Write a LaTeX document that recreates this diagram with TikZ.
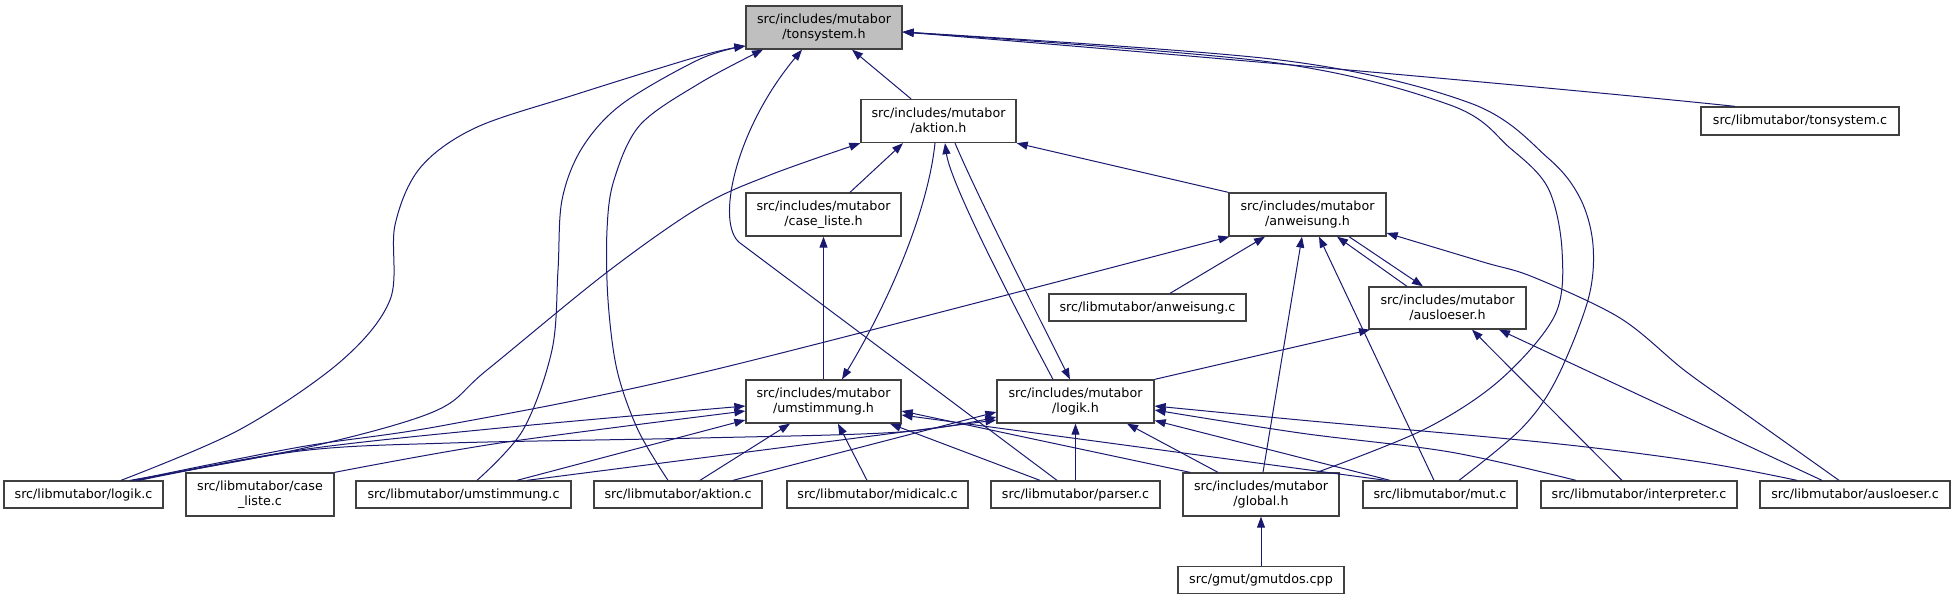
\documentclass[tikz,border=0pt]{standalone}
\usepackage{fontspec}
\setmainfont{DejaVu Sans}
\usetikzlibrary{arrows.meta}
\definecolor{edgec}{RGB}{25,25,112}
\definecolor{boxc}{RGB}{64,64,64}
\definecolor{tonsfill}{RGB}{191,191,191}
\begin{document}
\begin{tikzpicture}[x=1pt,y=-1pt,
  box/.style={draw=boxc, line width=1.3pt, fill=white, inner sep=0pt, align=center,
    minimum height=27pt, font=\fontsize{12.7}{15}\selectfont},
  tall/.style={minimum height=43pt},
  e/.style={draw=edgec, line width=1pt, -{Triangle[length=11pt,width=8pt]}},
]
\useasboundingbox (0,0) rectangle (1955,600);
% nodes
\node[box,tall,fill=tonsfill,minimum width=156pt] (tons) at (824,27.5) {src/includes/mutabor\\/tonsystem.h};
\node[box,tall,minimum width=155pt] (aktionh) at (938.5,121) {src/includes/mutabor\\/aktion.h};
\node[box,minimum width=198pt,minimum height=28pt] (tonsc) at (1800,121) {src/libmutabor/tonsystem.c};
\node[box,tall,minimum width=155pt] (casel) at (823.5,214.5) {src/includes/mutabor\\/case\_liste.h};
\node[box,tall,minimum width=157pt] (anwh) at (1307.5,214.5) {src/includes/mutabor\\/anweisung.h};
\node[box,minimum width=197pt] (anwc) at (1147.5,307.5) {src/libmutabor/anweisung.c};
\node[box,tall,minimum width=157pt,minimum height=42pt] (auslh) at (1447.5,308) {src/includes/mutabor\\/ausloeser.h};
\node[box,tall,minimum width=155pt] (umsth) at (823.5,401.5) {src/includes/mutabor\\/umstimmung.h};
\node[box,tall,minimum width=157pt] (logikh) at (1075.5,401.5) {src/includes/mutabor\\/logik.h};
\node[box,minimum width=159pt] (logikc) at (83.5,494.5) {src/libmutabor/logik.c};
\node[box,tall,minimum width=148pt] (caselc) at (260,494.5) {src/libmutabor/case\\\_liste.c};
\node[box,minimum width=215pt] (umstc) at (463.5,494.5) {src/libmutabor/umstimmung.c};
\node[box,minimum width=168pt] (aktionc) at (678,494.5) {src/libmutabor/aktion.c};
\node[box,minimum width=181pt] (midic) at (877.5,494.5) {src/libmutabor/midicalc.c};
\node[box,minimum width=169pt] (parserc) at (1075.5,494.5) {src/libmutabor/parser.c};
\node[box,tall,minimum width=156pt] (globalh) at (1261,494.5) {src/includes/mutabor\\/global.h};
\node[box,minimum width=154pt] (mutc) at (1440,494.5) {src/libmutabor/mut.c};
\node[box,minimum width=196pt] (interc) at (1639,494.5) {src/libmutabor/interpreter.c};
\node[box,minimum width=190pt] (auslc) at (1855,494.5) {src/libmutabor/ausloeser.c};
\node[box,minimum width=166pt] (gmutdos) at (1261,580) {src/gmut/gmutdos.cpp};

% edges to tonsystem.h
\draw[e] ([xshift=-27.5pt]aktionh.north) -- ([xshift=28pt]tons.south);
\draw[e] ([xshift=-65pt]tonsc.north) .. controls (1600,92) and (1200,56) .. ([yshift=-4.5pt]tons.east);
\draw[e] plot[smooth,tension=0.55] coordinates {([xshift=56pt]globalh.north) (1425,429) (1500,380) (1555,315) (1562,250) (1548,188) (1510,148) (1450,105) (1270,62) ([yshift=-4.5pt]tons.east)};
\draw[e] plot[smooth,tension=0.55] coordinates {([xshift=19pt]mutc.north) (1521,429) (1556,380) (1588,300) (1593,245) (1580,198) (1548,158) (1470,103) (1280,60) ([yshift=-4.5pt]tons.east)};
\draw[e] plot[smooth,tension=0.55] coordinates {([xshift=37.5pt]logikc.north) (239,430) (340,362) (390,300) (395,225) (420,168) (475,128) (574,95) (700,56) ([yshift=-18.5pt]tons.west)};
\draw[e] plot[smooth,tension=0.55] coordinates {([xshift=13.5pt]umstc.north) (523,430) (552,350) (558,270) (562,200) (582,148) (622,104) (700,59) ([yshift=-18.5pt]tons.west)};
\draw[e] plot[smooth,tension=0.55] coordinates {([xshift=-10pt]aktionc.north) (638,430) (617,370) (608,300) (607,230) (614,180) (640,125) (700,83) ([xshift=-61pt]tons.south)};
\draw[e] ([xshift=-18.5pt]parserc.north) -- (740,243) .. controls (715,224) and (735,130) .. ([xshift=-22pt]tons.south);

% edges to aktion.h
\draw[e] ([xshift=26.5pt]casel.north) -- ([xshift=-35.5pt]aktionh.south);
\draw[e] (anwh.north west) -- (aktionh.south east);
\draw[e] plot[smooth,tension=0.55] coordinates {([xshift=46.5pt]logikc.north) (300,449) (433,412) (487,370) (606,273) (700,207) (770,175) (aktionh.south west)};
\draw[e] ([xshift=-22.5pt]logikh.north) .. controls (1000,280) and (950,180) .. ([xshift=6.5pt]aktionh.south);
\draw[e] ([xshift=16.5pt]aktionh.south) .. controls (975,190) and (1020,280) .. ([xshift=-5.5pt]logikh.north);
\draw[e] ([xshift=-3.5pt]aktionh.south) .. controls (928,210) and (890,300) .. ([xshift=18.5pt]umsth.north);

% case_liste.h
\draw[e] (umsth.north) -- (casel.south);

% anweisung.h
\draw[e] plot[smooth,tension=0.55] coordinates {([xshift=49.5pt]logikc.north) (300,447) (446,425) (713,370) ([xshift=-78pt]anwh.south)};
\draw[e] ([xshift=22.5pt]anwc.north) -- ([xshift=-42.5pt]anwh.south);
\draw[e] ([xshift=2pt]globalh.north) -- ([xshift=-5.5pt]anwh.south);
\draw[e] ([xshift=-6pt]mutc.north) -- ([xshift=11.5pt]anwh.south);
\draw[e] ([xshift=-40.5pt]auslh.north) -- ([xshift=29.5pt]anwh.south);
\draw[e] ([xshift=41.5pt]anwh.south) -- ([xshift=-24.5pt]auslh.north);
\draw[e] plot[smooth,tension=0.55] coordinates {([xshift=-16pt]auslc.north) (1740,410) (1684,370) (1620,318) (1533,277) (1483,262) ([yshift=-18.5pt]anwh.east)};

% ausloeser.h
\draw[e] (logikh.north east) -- ([xshift=-77.5pt]auslh.south);
\draw[e] ([xshift=-17pt]interc.north) -- ([xshift=24.5pt]auslh.south);
\draw[e] ([xshift=-33pt]auslc.north) -- ([xshift=51.5pt]auslh.south);

% umstimmung.h
\draw[e] plot[smooth,tension=0.55] coordinates {([xshift=52.5pt]logikc.north) (300,450) (500,428) ([yshift=-4.5pt]umsth.west)};
\draw[e] plot[smooth,tension=0.55] coordinates {(caselc.north east) (500,443) ([yshift=-9.5pt]umsth.west)};
\draw[e] ([xshift=53.5pt]umstc.north) -- ([yshift=-18.5pt]umsth.west);
\draw[e] ([xshift=22pt]aktionc.north) -- ([xshift=-33.5pt]umsth.south);
\draw[e] ([xshift=-10.5pt]midic.north) -- ([xshift=14.5pt]umsth.south);
\draw[e] ([xshift=-35.5pt]parserc.north) -- ([xshift=66.5pt]umsth.south);
\draw[e] ([xshift=-71pt]globalh.north) -- ([yshift=-9.5pt]umsth.east);
\draw[e] ([xshift=-54pt]mutc.north) -- ([yshift=-13.5pt]umsth.east);

% logik.h
\draw[e] plot[smooth,tension=0.55] coordinates {([xshift=55.5pt]logikc.north) (300,451) (450,443) (700,438) (900,432) ([yshift=-15.5pt]logikh.west)};
\draw[e] ([xshift=63.5pt]umstc.north) -- ([yshift=-18.5pt]logikh.west);
\draw[e] ([xshift=55pt]aktionc.north) -- ([yshift=-10.5pt]logikh.west);
\draw[e] (parserc.north) -- (logikh.south);
\draw[e] ([xshift=-43pt]globalh.north) -- ([xshift=51.5pt]logikh.south);
\draw[e] ([xshift=-50pt]mutc.north) -- ([yshift=-19pt]logikh.east);
\draw[e] plot[smooth,tension=0.55] coordinates {([xshift=-63pt]interc.north) (1450,452) (1300,433) ([yshift=-8.5pt]logikh.east)};
\draw[e] plot[smooth,tension=0.55] coordinates {([xshift=-58pt]auslc.north) (1700,462) (1550,443) (1300,420) ([yshift=-4.5pt]logikh.east)};

% global.h
\draw[e] (gmutdos.north) -- (globalh.south);
\end{tikzpicture}
\end{document}
